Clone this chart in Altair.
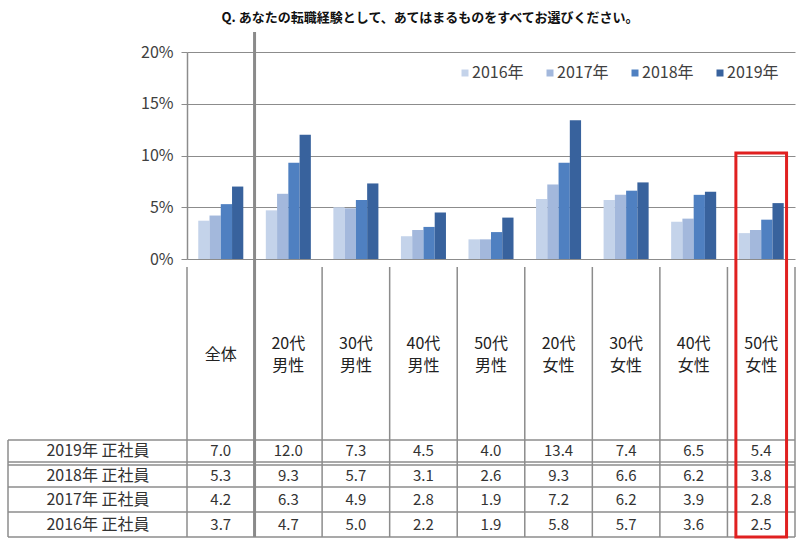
import altair as alt
import pandas as pd

# ---- data ----
cats = ["全体", "20代男性", "30代男性", "40代男性", "50代男性",
        "20代女性", "30代女性", "40代女性", "50代女性"]
cat_line1 = ["全体", "20代", "30代", "40代", "50代", "20代", "30代", "40代", "50代"]
cat_line2 = ["", "男性", "男性", "男性", "男性", "女性", "女性", "女性", "女性"]
years = ["2016年", "2017年", "2018年", "2019年"]
v2016 = [3.7, 4.7, 5.0, 2.2, 1.9, 5.8, 5.7, 3.6, 2.5]
v2017 = [4.2, 6.3, 4.9, 2.8, 1.9, 7.2, 6.2, 3.9, 2.8]
v2018 = [5.3, 9.3, 5.7, 3.1, 2.6, 9.3, 6.6, 6.2, 3.8]
v2019 = [7.0, 12.0, 7.3, 4.5, 4.0, 13.4, 7.4, 6.5, 5.4]
row_labels = ["2019年 正社員", "2018年 正社員", "2017年 正社員", "2016年 正社員"]
row_years = ["2019年", "2018年", "2017年", "2016年"]
title_text = "Q.  あなたの転職経験として、あてはまるものをすべてお選びください。"
colors = ["#c4d3ea", "#a3b8dc", "#4f80c1", "#38629d"]

series = [v2016, v2017, v2018, v2019]
long = pd.DataFrame(
    [{"cat": c, "year": y, "value": v}
     for y, vals in zip(years, series) for c, v in zip(cats, vals)]
)
catdf = pd.DataFrame({"cat": cats, "l1": cat_line1, "l2": cat_line2})

FONT = "Noto Sans CJK JP"
LINE = "#8c8c8c"
TOP = 52
LEFT = 187

xscale = alt.Scale(domain=cats, paddingInner=0, paddingOuter=0)
cscale = alt.Scale(domain=years, range=colors)


def X(**kw):
    return alt.X("cat:N", scale=xscale, axis=None, **kw)


layers = []

# vertical table lines at category edges
layers.append(
    alt.Chart(catdf).mark_rule(color=LINE, strokeWidth=1.5).encode(
        x=X(bandPosition=0), y=alt.value(267 - TOP), y2=alt.value(537 - TOP)
    )
)
# right edge line
layers.append(
    alt.Chart(catdf.head(1)).mark_rule(color=LINE, strokeWidth=1.5).encode(
        x=alt.value(608), y=alt.value(267 - TOP), y2=alt.value(537 - TOP)
    )
)
# left border of table
layers.append(
    alt.Chart(catdf.head(1)).mark_rule(color=LINE, strokeWidth=1.5).encode(
        x=alt.value(8 - LEFT), y=alt.value(440 - TOP), y2=alt.value(537 - TOP)
    )
)
# horizontal table lines
for yy in [440, 462, 465, 487, 512, 537]:
    layers.append(
        alt.Chart(catdf.head(1)).mark_rule(color=LINE, strokeWidth=1.5).encode(
            x=alt.value(8 - LEFT), x2=alt.value(608), y=alt.value(yy - TOP)
        )
    )
# thick separator after 全体
layers.append(
    alt.Chart(catdf.iloc[[1]]).mark_rule(color="#8a8a8a", strokeWidth=3).encode(
        x=X(bandPosition=0), y=alt.value(32 - TOP), y2=alt.value(537 - TOP)
    )
)

# bars
bars = alt.Chart(long).mark_bar().encode(
    x=X(),
    xOffset=alt.XOffset("year:N", scale=alt.Scale(domain=years, paddingInner=0, paddingOuter=1)),
    y=alt.Y("value:Q", stack=None,
            scale=alt.Scale(domain=[0, 20], nice=False),
            axis=alt.Axis(values=[0, 5, 10, 15, 20], labelExpr="datum.value + '%'",
                          grid=True, gridColor=LINE, gridWidth=1,
                          domainColor=LINE, domainWidth=1.5, tickColor=LINE, tickSize=6,
                          labelFontSize=16, labelColor="#404040", labelPadding=8,
                          labelFont=FONT, title=None)),
    color=alt.Color("year:N", scale=cscale, legend=None),
)
layers.append(bars)

# legend (drawn with the same colour scale)
for i, yr in enumerate(years):
    ydf = pd.DataFrame({"year": [yr]})
    layers.append(
        alt.Chart(ydf).mark_square(size=49, opacity=1).encode(
            x=alt.value(465 - LEFT + 85 * i), y=alt.value(73 - TOP),
            color=alt.Color("year:N", scale=cscale, legend=None)
        )
    )
    layers.append(
        alt.Chart(ydf).mark_text(font=FONT, fontSize=16, color="#404040",
                                 align="left", baseline="middle").encode(
            x=alt.value(472 - LEFT + 85 * i), y=alt.value(73 - TOP), text="year:N"
        )
    )

# category labels
layers.append(
    alt.Chart(catdf).transform_filter(alt.datum.l2 == "").mark_text(
        font=FONT, fontSize=16, color="#222222", baseline="middle").encode(
        x=X(), y=alt.value(355 - TOP), text="l1:N"
    )
)
layers.append(
    alt.Chart(catdf).transform_filter(alt.datum.l2 != "").mark_text(
        font=FONT, fontSize=16, color="#222222", baseline="middle").encode(
        x=X(), y=alt.value(344 - TOP), text="l1:N"
    )
)
layers.append(
    alt.Chart(catdf).transform_filter(alt.datum.l2 != "").mark_text(
        font=FONT, fontSize=16, color="#222222", baseline="middle").encode(
        x=X(), y=alt.value(366 - TOP), text="l2:N"
    )
)

# table values
row_centers = [451, 476, 499.5, 524.5]
for ry, cy in zip(row_years, row_centers):
    layers.append(
        alt.Chart(long).transform_filter(alt.datum.year == ry).mark_text(
            font=FONT, fontSize=15, color="#333333", baseline="middle").encode(
            x=X(), y=alt.value(cy - TOP), text=alt.Text("value:Q", format=".1f")
        )
    )
# row labels
for lab, cy in zip(row_labels, row_centers):
    layers.append(
        alt.Chart(pd.DataFrame({"t": [lab]})).mark_text(
            font=FONT, fontSize=16, color="#333333", baseline="middle").encode(
            x=alt.value(98 - LEFT), y=alt.value(cy - TOP), text="t:N"
        )
    )

# title
layers.append(
    alt.Chart(pd.DataFrame({"t": [title_text]})).mark_text(
        font=FONT, fontSize=13, fontWeight="bold", color="#111111", baseline="middle").encode(
        x=alt.value(430 - LEFT), y=alt.value(18 - TOP), text="t:N"
    )
)

# red highlight box
layers.append(
    alt.Chart(catdf.iloc[[8]]).mark_bar(fillOpacity=0, stroke="#e02020", strokeWidth=3,
                                        width=alt.RelativeBandSize(0.75)).encode(
        x=X(), y=alt.value(153 - TOP), y2=alt.value(537 - TOP)
    )
)

chart = alt.layer(*layers).properties(
    width=608, height=207,
    autosize=alt.AutoSizeParams(type="none"),
    padding={"left": LEFT, "top": TOP, "right": 14, "bottom": 287},
    background="white",
).configure_view(stroke=None)

chart.save("out.html", embed_options={"renderer": "svg", "actions": False})
